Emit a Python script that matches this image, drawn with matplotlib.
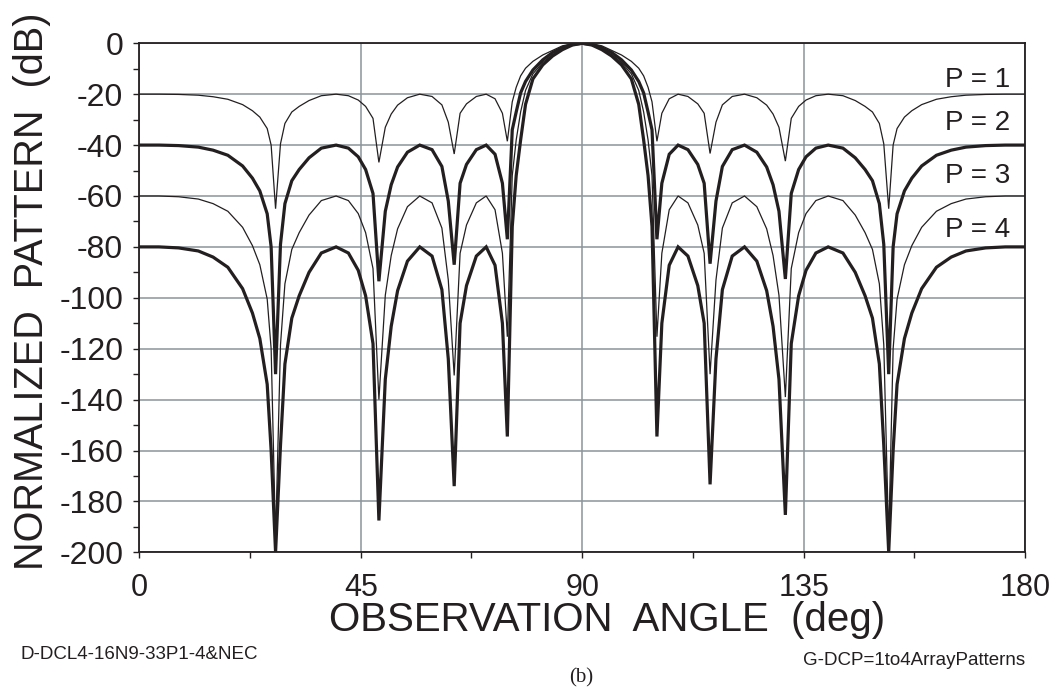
import matplotlib
matplotlib.use("Agg")
import matplotlib.pyplot as plt
from matplotlib.ticker import MultipleLocator

# observation angle (deg), left half then right half
angle_left = [0, 4, 8, 12, 15, 18, 21, 23, 24.5, 26, 26.8, 27.7, 28.7, 29.6, 31, 32.5,
              34.5, 37, 40, 42.5, 44.5, 46, 47.5, 48.7, 50, 51.2, 52.5, 54.5, 57, 59.5,
              61.5, 62.8, 64, 65.2, 66.5, 68.5, 70.5, 72.3, 73.8, 74.8,
              75.8, 76.6, 77.5, 78.5, 80, 82, 84, 86, 88, 90]
angle_right = [92, 94, 96, 98, 100, 101.5, 102.5, 103.4, 104.2, 105.2, 106.2, 107.7,
               109.5, 111.5, 113.5, 114.8, 116, 117.2, 118.5, 120.5, 123, 125.5, 127.5,
               128.8, 130, 131.3, 132.5, 134, 135.5, 137.5, 140, 143, 145.5, 147.5, 149,
               150.4, 151.3, 152.3, 153.2, 154, 155.5, 157, 159, 162, 165, 168, 172, 176, 180]

# normalized pattern (dB) for P = 1..4
p1 = [-20.0, -20.0, -20.1, -20.4, -21.0, -22.0, -24.1, -26.5, -29.0, -33.5, -40.0, -65.0,
      -39.5, -31.5, -27.0, -24.8, -22.5, -20.6, -20.0, -20.6, -22.3, -24.8, -29.5, -46.8,
      -33.0, -27.8, -24.3, -21.4, -20.0, -20.9, -24.2, -31.0, -43.5, -27.5, -23.8, -20.9,
      -20.0, -21.8, -27.5, -38.5,
      -23.0, -17.3, -12.8, -9.8, -7.1, -4.6, -2.8, -1.0, -0.2, 0.0,
      -0.2, -1.0, -2.8, -4.6, -7.1, -9.8, -12.8, -17.3, -23.0, -38.5, -27.5, -21.8, -20.0,
      -20.9, -23.8, -27.5, -43.3, -31.0, -24.2, -20.9, -20.0, -21.4, -24.3, -27.8, -33.0,
      -46.3, -29.5, -24.8, -22.3, -20.6, -20.0, -20.6, -22.5, -24.8, -27.0, -31.5, -39.5,
      -65.0, -40.0, -33.5, -29.0, -26.5, -24.1, -22.0, -21.0, -20.4, -20.1, -20.0, -20.0]

p2 = [-40.0, -40.0, -40.2, -40.8, -42.0, -44.0, -48.2, -53.0, -58.0, -67.0, -80.0, -130.0,
      -79.0, -63.0, -54.0, -49.6, -45.0, -41.2, -40.0, -41.2, -44.6, -49.6, -59.0, -93.5,
      -66.0, -55.6, -48.6, -42.8, -40.0, -41.8, -48.4, -62.0, -87.0, -55.0, -47.6, -41.8,
      -40.0, -43.6, -55.0, -77.0,
      -34.0, -27.0, -19.5, -15.0, -10.5, -6.5, -3.6, -1.7, -0.5, 0.0,
      -0.5, -1.7, -3.6, -6.5, -10.5, -15.0, -19.5, -27.0, -34.0, -77.0, -55.0, -43.6, -40.0,
      -41.8, -47.6, -55.0, -86.6, -62.0, -48.4, -41.8, -40.0, -42.8, -48.6, -55.6, -66.0,
      -92.6, -59.0, -49.6, -44.6, -41.2, -40.0, -41.2, -45.0, -49.6, -54.0, -63.0, -79.0,
      -130.0, -80.0, -67.0, -58.0, -53.0, -48.2, -44.0, -42.0, -40.8, -40.2, -40.0, -40.0]

p3 = [-60.0, -60.0, -60.3, -61.2, -63.0, -66.0, -72.3, -79.5, -87.0, -100.5, -120.0, -195.0,
      -118.5, -94.5, -81.0, -74.4, -67.5, -61.8, -60.0, -61.8, -66.9, -74.4, -88.5, -140.0,
      -99.0, -83.4, -72.9, -64.2, -60.0, -62.7, -72.6, -93.0, -130.5, -82.5, -71.4, -62.7,
      -60.0, -65.4, -82.5, -115.3,
      -52.0, -38.0, -27.0, -18.5, -12.0, -7.5, -4.5, -2.2, -0.6, 0.0,
      -0.6, -2.2, -4.5, -7.5, -12.0, -18.5, -27.0, -38.0, -52.0, -115.3, -82.5, -65.4, -60.0,
      -62.7, -71.4, -82.5, -130.0, -93.0, -72.6, -62.7, -60.0, -64.2, -72.9, -83.4, -99.0,
      -139.0, -88.5, -74.4, -66.9, -61.8, -60.0, -61.8, -67.5, -74.4, -81.0, -94.5, -118.5,
      -195.0, -120.0, -100.5, -87.0, -79.5, -72.3, -66.0, -63.0, -61.2, -60.3, -60.0, -60.0]

p4 = [-80.0, -80.0, -80.4, -81.6, -84.0, -88.0, -96.4, -106.0, -116.0, -134.0, -160.0, -200.0,
      -158.0, -126.0, -108.0, -99.2, -90.0, -82.4, -80.0, -82.4, -89.2, -99.2, -118.0, -187.5,
      -132.0, -111.2, -97.2, -85.6, -80.0, -83.6, -96.8, -124.0, -174.0, -110.0, -95.2, -83.6,
      -80.0, -87.2, -110.0, -154.5,
      -72.0, -52.0, -38.0, -24.0, -14.0, -8.5, -5.0, -2.5, -0.7, 0.0,
      -0.7, -2.5, -5.0, -8.5, -14.0, -24.0, -38.0, -52.0, -72.0, -154.5, -110.0, -87.2, -80.0,
      -83.6, -95.2, -110.0, -173.3, -124.0, -96.8, -83.6, -80.0, -85.6, -97.2, -111.2, -132.0,
      -185.3, -118.0, -99.2, -89.2, -82.4, -80.0, -82.4, -90.0, -99.2, -108.0, -126.0, -158.0,
      -200.0, -160.0, -134.0, -116.0, -106.0, -96.4, -88.0, -84.0, -81.6, -80.4, -80.0, -80.0]

curve_labels = ["P = 1", "P = 2", "P = 3", "P = 4"]
label_y = [-17.0, -34.1, -55.0, -76.2]

x_ticks = [0, 45, 90, 135, 180]

ink = "#231f20"
grid_col = "#8c959b"

plt.rcParams['font.family'] = ['Liberation Sans', 'DejaVu Sans']
plt.rcParams['axes.unicode_minus'] = False

fig = plt.figure(figsize=(10.59, 6.88), dpi=100)
ax = fig.add_axes([0.1315, 0.1972, 0.8364, 0.7399])

angle = angle_left + angle_right
widths = [0.9, 2.3, 0.9, 2.3]
for vals, lw in zip([p1, p2, p3, p4], widths):
    ax.plot(angle, vals, color=ink, linewidth=lw, solid_joinstyle='miter', zorder=3)

for txt, yy in zip(curve_labels, label_y):
    ax.text(177.0, yy, txt, ha='right', va='baseline', fontsize=20, color=ink, zorder=4)

ax.set_xlim(0, 180)
ax.set_ylim(-200, 0)
ax.set_xticks(x_ticks)
ax.xaxis.set_minor_locator(MultipleLocator(22.5))
ax.yaxis.set_major_locator(MultipleLocator(20))
ax.yaxis.set_minor_locator(MultipleLocator(10))

ax.tick_params(which='both', direction='out', length=4.3, width=1.0, color=ink)
ax.tick_params(axis='y', which='major', labelsize=23, pad=7.3, labelcolor=ink)
ax.tick_params(axis='x', which='major', labelsize=22, pad=10.5, labelcolor=ink)

ax.set_axisbelow(True)
ax.grid(which='major', color=grid_col, linewidth=1.1)
for s in ax.spines.values():
    s.set_color(ink)
    s.set_linewidth(1.3)

# x label sits right under the tick numbers, a bit right of centre, as in the original
ax.set_xlabel("OBSERVATION  ANGLE  (deg)", fontsize=29, color=ink, va='baseline')
ax.xaxis.set_label_coords(0.5286, -0.1546)
ax.set_ylabel("NORMALIZED  PATTERN  (dB)", fontsize=28.5, color=ink, va='center')
ax.yaxis.set_label_coords(-0.1206, 0.5124)

fig.text(20 / 1059, 0.0422, "D-DCL4-16N9-33P1-4&NEC", fontsize=13.5, color=ink,
         ha='left', va='baseline')
fig.text(1025 / 1059, 0.0334, "G-DCP=1to4ArrayPatterns", fontsize=13.5, color=ink,
         ha='right', va='baseline')
fig.text(581 / 1059, 0.0073, "(b)", fontsize=15, color=ink, ha='center', va='baseline',
         family=['Liberation Serif', 'DejaVu Serif'])

fig.savefig("out.png", dpi=100)
